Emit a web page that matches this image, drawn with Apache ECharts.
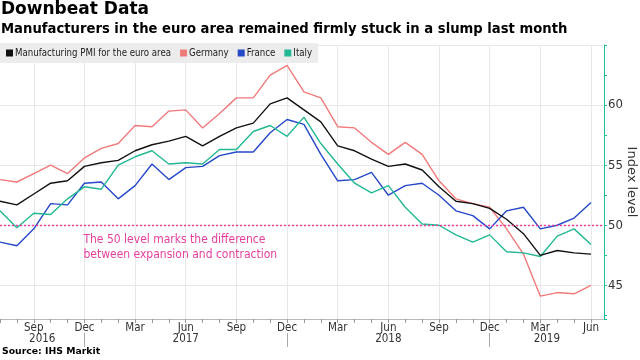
<!DOCTYPE html>
<html><head><meta charset="utf-8">
<script src="https://cdn.jsdelivr.net/npm/echarts@6/dist/echarts.min.js"></script>
<style>html,body{margin:0;padding:0;background:#fff}#c{width:640px;height:360px}</style>
</head><body><div id="c"></div>
<script>
const months = ['2016-07','2016-08','2016-09','2016-10','2016-11','2016-12',
  '2017-01','2017-02','2017-03','2017-04','2017-05','2017-06','2017-07','2017-08','2017-09','2017-10','2017-11','2017-12',
  '2018-01','2018-02','2018-03','2018-04','2018-05','2018-06','2018-07','2018-08','2018-09','2018-10','2018-11','2018-12',
  '2019-01','2019-02','2019-03','2019-04','2019-05','2019-06'];
const euroArea = [52.0,51.7,52.6,53.5,53.7,54.9,55.2,55.4,56.2,56.7,57.0,57.4,56.6,57.4,58.1,58.5,60.1,60.6,59.6,58.6,56.6,56.2,55.5,54.9,55.1,54.6,53.2,52.0,51.8,51.4,50.5,49.3,47.5,47.9,47.7,47.6];
const germany = [53.8,53.6,54.3,55.0,54.3,55.6,56.4,56.8,58.3,58.2,59.5,59.6,58.1,59.3,60.6,60.6,62.5,63.3,61.1,60.6,58.2,58.1,56.9,55.9,56.9,55.9,53.7,52.2,51.8,51.5,49.7,47.6,44.1,44.4,44.3,45.0];
const france = [48.6,48.3,49.7,51.8,51.7,53.5,53.6,52.2,53.3,55.1,53.8,54.8,54.9,55.8,56.1,56.1,57.7,58.8,58.4,55.9,53.7,53.8,54.4,52.5,53.3,53.5,52.5,51.2,50.8,49.7,51.2,51.5,49.7,50.0,50.6,51.9];
const italy = [51.2,49.8,51.0,50.9,52.2,53.2,53.0,55.0,55.7,56.2,55.1,55.2,55.1,56.3,56.3,57.8,58.3,57.4,59.0,56.8,55.1,53.5,52.7,53.3,51.5,50.1,50.0,49.2,48.6,49.2,47.8,47.7,47.4,49.1,49.7,48.4];
const seriesNames = ['Manufacturing PMI for the euro area','Germany','France','Italy'];
const quarterMonths = ['03','06','09','12'];
const monthAbbr = {'03':'Mar','06':'Jun','09':'Sep','12':'Dec'};
const yTickLabels = [45,50,55,60];
const thresholdValue = 50;
const annotationLines = ['The 50 level marks the difference','between expansion and contraction'];

const X_MIN = 0, X_MAX = 35.77;
const idx = months.map((m,i)=>i);
const quarterIdx = idx.filter(i => quarterMonths.includes(months[i].slice(5)));
const decIdx = idx.filter(i => months[i].slice(5) === '12');
const bounds = [X_MIN, ...decIdx, X_MAX];
const yearCenters = [];
for (let k=0;k<bounds.length-1;k++) yearCenters.push((bounds[k]+bounds[k+1])/2);
const yearOf = v => months[Math.min(months.length-1, Math.floor(v))].slice(0,4);
const annX = decIdx[0];

const toData = arr => arr.map((v,i)=>[i,v]);
const COND = '"DejaVu Sans Condensed","DejaVu Sans",sans-serif';
const colors = {black:'#111111', ger:'#f07a7a', fra:'#2548c8', ita:'#22b893', teal:'#1fbf9c', mag:'#e8409f'};

const chart = echarts.init(document.getElementById('c'), null, {renderer:'canvas'});
chart.setOption({
  animation:false,
  backgroundColor:'#fff',
  title:[
    {text:'Downbeat Data', left:1, top:1, padding:0, textStyle:{fontFamily:'DejaVu Sans', fontWeight:'bold', fontSize:17, color:'#000'}},
    {text:'Manufacturers in the euro area remained firmly stuck in a slump last month', left:1, top:23, padding:0, textStyle:{fontFamily:'DejaVu Sans', fontWeight:'bold', fontSize:13.2, color:'#000'}},
    {text:'Source: IHS Markit', left:2, top:347, padding:0, textStyle:{fontFamily:'DejaVu Sans', fontWeight:'bold', fontSize:9.3, color:'#000'}}
  ],
  legend:{
    data:seriesNames, left:0, top:43, padding:[5,6,5,6], itemGap:9, itemWidth:7, itemHeight:7, icon:'rect',
    backgroundColor:'#ececec',
    textStyle:{fontFamily:'"Liberation Sans Narrow","DejaVu Sans Condensed",sans-serif', fontSize:9.6, color:'#222', padding:[0,0,0,-3]}
  },
  grid:{left:0, right:36, top:45, bottom:41, containLabel:false, outerBoundsMode:'none'},
  xAxis:[
    {type:'value', min:X_MIN, max:X_MAX, position:'bottom',
     axisLine:{show:true, onZero:false, lineStyle:{color:'#b8b8b8'}},
     axisTick:{show:true, customValues:idx, length:4, lineStyle:{color:'#999'}},
     axisLabel:{show:true, customValues:quarterIdx, margin:3, fontFamily:COND, fontSize:11.5, color:'#333',
       formatter:v=>monthAbbr[months[Math.round(v)].slice(5)]},
     splitLine:{show:false}},
    {type:'value', min:X_MIN, max:X_MAX, position:'bottom',
     axisLine:{show:false, onZero:false}, axisLabel:{show:false},
     axisTick:{show:false, customValues:quarterIdx},
     splitLine:{show:true, lineStyle:{color:'#e8e8e8', width:1}}},
    {type:'value', min:X_MIN, max:X_MAX, position:'bottom', offset:14,
     axisLine:{show:false, onZero:false},
     axisTick:{show:true, customValues:decIdx, length:14, lineStyle:{color:'#aaa'}},
     axisLabel:{show:true, customValues:yearCenters, margin:0, fontFamily:COND, fontSize:11.5, color:'#333',
       formatter:v=>yearOf(v)},
     splitLine:{show:false}}
  ],
  yAxis:{type:'value', position:'right', min:42.2, max:65,
    name:'Index level', nameLocation:'middle', nameRotate:-90, nameGap:21, nameMoveOverlap:false,
    nameTextStyle:{fontFamily:'DejaVu Sans', fontSize:13, color:'#333'},
    axisLine:{show:true, onZero:false, lineStyle:{color:colors.teal, width:1}},
    axisTick:{show:true, length:3, lineStyle:{color:colors.teal}},
    minorTick:{show:true, splitNumber:2, length:3, lineStyle:{color:colors.teal}},
    axisLabel:{margin:4, fontFamily:COND, fontSize:13, color:'#333',
      formatter:v=>yTickLabels.includes(v)?String(v):''},
    splitLine:{show:true, lineStyle:{color:'#e8e8e8'}}
  },
  series:[
    {name:seriesNames[1], type:'line', data:toData(germany), symbol:'none', lineStyle:{color:colors.ger, width:1.4}, itemStyle:{color:colors.ger}},
    {name:seriesNames[2], type:'line', data:toData(france), symbol:'none', lineStyle:{color:colors.fra, width:1.4}, itemStyle:{color:colors.fra}},
    {name:seriesNames[3], type:'line', data:toData(italy), symbol:'none', lineStyle:{color:colors.ita, width:1.4}, itemStyle:{color:colors.ita}},
    {name:seriesNames[0], type:'line', data:toData(euroArea), symbol:'none', lineStyle:{color:colors.black, width:1.4}, itemStyle:{color:colors.black}},
    {name:'threshold', type:'line', data:[], symbol:'none', color:colors.mag, z:3,
     lineStyle:{color:colors.mag}, itemStyle:{color:colors.mag},
     markLine:{silent:true, symbol:['none','none'], label:{show:false},
       itemStyle:{color:colors.mag},
       lineStyle:{color:colors.mag, type:[2,2], width:1.3, opacity:1},
       data:[{yAxis:thresholdValue, lineStyle:{color:colors.mag, type:[2,2], width:1.3}}]},
     markPoint:{silent:true, symbol:'circle', symbolSize:0,
       data:[{coord:[annX, 48.15], value:0}],
       label:{show:true, position:'right', distance:-1, formatter:annotationLines.join('\n'),
         fontFamily:COND, fontSize:12, lineHeight:14.7, color:colors.mag, align:'left', verticalAlign:'middle'}}
    }
  ]
});
</script></body></html>
